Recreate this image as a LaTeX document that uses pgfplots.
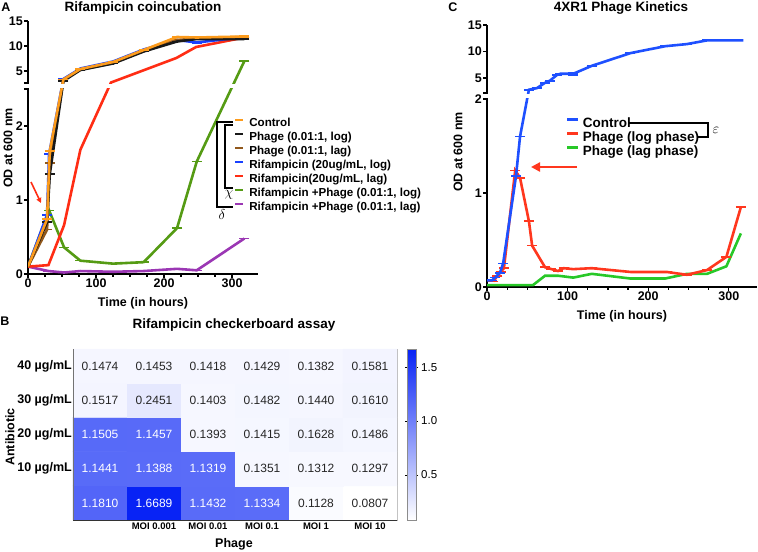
\documentclass[border=0pt]{standalone}
\usepackage{fontspec}
\setmainfont{Liberation Sans}
\usepackage{pgfplots}
\pgfplotsset{compat=1.18}
\usetikzlibrary{arrows.meta}

\definecolor{aOr}{RGB}{252,155,28}
\definecolor{aBk}{RGB}{25,25,25}
\definecolor{aBr}{RGB}{145,88,28}
\definecolor{aBl}{RGB}{25,65,255}
\definecolor{aRd}{RGB}{255,45,20}
\definecolor{aGn}{RGB}{85,155,20}
\definecolor{aPu}{RGB}{155,55,180}
\definecolor{cBl}{RGB}{30,80,255}
\definecolor{cRd}{RGB}{255,55,30}
\definecolor{cGn}{RGB}{40,200,40}

\newcommand{\bfs}[1]{\bfseries\fontsize{#1}{#1}\selectfont}
\newcommand{\rgs}[1]{\fontsize{#1}{#1}\selectfont}

\pgfplotsset{
  gp/.style={
    scale only axis,
    axis x line*=bottom, axis y line*=left,
    axis line style={line width=1.3bp, black},
    tick style={line width=1.3bp, black},
    tick align=outside,
    major tick length=4bp, minor tick length=2.5bp,
    xtick={0,100,200,300}, minor x tick num=3,
    ytick={0,1,2,5,10,15}, yticklabels={0,1,2,5,10,15},
    extra y tick labels={},
    /pgf/number format/assume math mode=true,
    tick label style={font=\bfs{12.5bp}},
    xticklabel style={inner sep=1bp},
    yticklabel style={inner sep=1bp},
    clip=true,
    legend cell align=left,
  },
  err/.style={error bars/.cd, y dir=both, y explicit, error mark=-,
    error bar style={line width=1.5bp, solid},
    error mark options={rotate=90, line width=1.5bp, mark size=5bp}},
}

\begin{document}
\begin{tikzpicture}
\useasboundingbox (0bp,0bp) rectangle (758bp,-552bp);

% ---------------- Panel A ----------------
\begin{axis}[gp, at={(28bp,-274bp)}, anchor=south west, width=230bp, height=253bp,
  xmin=0, xmax=338, ymin=0, ymax=15,
  y coord trafo/.code={\pgfmathparse{(#1)<2.5 ? 74*(#1) : ((#1)<2.6 ? 185+60*((#1)-2.5) : 191+5*((#1)-2.6))}},
  extra y ticks={2.5,2.6},
  legend style={at={(axis description cs:0.8957,0.6166)}, anchor=north west, draw=none, fill=none,
    font=\bfs{11.6bp}, row sep=2.5bp, inner sep=0pt, outer sep=0pt,
    nodes={inner sep=0pt, text height=8.3bp, text depth=3.2bp},
    /tikz/every odd column/.append style={column sep=5bp}},
  legend image code/.code={\draw[#1, line width=2.8bp] (0bp,3.8bp) -- (7.5bp,3.8bp);},
]
\addlegendimage{aOr}\addlegendentry{Control}
\addlegendimage{aBk}\addlegendentry{Phage (0.01:1, log)}
\addlegendimage{aBr}\addlegendentry{Phage (0.01:1, lag)}
\addlegendimage{aBl}\addlegendentry{Rifampicin (20ug/mL, log)}
\addlegendimage{aRd}\addlegendentry{Rifampicin(20ug/mL, lag)}
\addlegendimage{aGn}\addlegendentry{Rifampicin +Phage (0.01:1, log)}
\addlegendimage{aPu}\addlegendentry{Rifampicin +Phage (0.01:1, lag)}

\addplot[aPu, line width=2.6bp, forget plot, err] coordinates {
 (0,0.1) (30,0.04) +- (0,0.03) (53,0.02) +- (0,0.01) (77,0.04) +- (0,0.03)
 (125,0.03) +- (0,0.02) (170,0.04) +- (0,0.02) (219,0.07) +- (0,0.01)
 (248,0.05) +- (0,0.02) (318,0.48) +- (0,0.04)};
\addplot[aGn, line width=2.6bp, forget plot, err] coordinates {
 (0,0.1) (31,0.86) +- (0,0.04) (53,0.36) +- (0,0.04) (77,0.18) +- (0,0.03)
 (125,0.14) +- (0,0.02) (170,0.16) +- (0,0.03) (219,0.62) +- (0,0.14)
 (248,1.52) +- (0,0.14) (318,7.0) +- (0,0.2)};
\addplot[aRd, line width=2.6bp, forget plot] coordinates {
 (0,0.1) (30,0.12) (53,0.66) (77,1.68) (122,2.7) (218,7.6) (247,9.8) (318,11.7)};
\addplot[aBl, line width=2.6bp, forget plot, err] coordinates {
 (0,0.1) (28,0.8) +- (0,0.05) (31,1.62) +- (0,0.07) (52,3.4) +- (0,0.2)
 (77,5.5) +- (0,0.2) (125,6.9) +- (0,0.2) (170,9.3) +- (0,0.2)
 (219,11.2) +- (0,0.3) (248,10.7) +- (0,0.3) (318,11.8) +- (0,0.2)};
\addplot[aBr, line width=2.6bp, forget plot, err] coordinates {
 (0,0.1) (28,0.6) +- (0,0.04) (32,1.5) +- (0,0.06) (52,3.2) +- (0,0.1)
 (77,5.3) +- (0,0.1) (125,6.6) +- (0,0.1) (170,9.0) +- (0,0.1)
 (219,11.2) +- (0,0.1) (248,11.5) +- (0,0.1) (318,11.8) +- (0,0.1)};
\addplot[aBk, line width=2.6bp, forget plot, err] coordinates {
 (0,0.1) (28,0.7) +- (0,0.05) (32,1.35) +- (0,0.08) (52,3.0) +- (0,0.15)
 (77,5.2) +- (0,0.15) (125,6.5) +- (0,0.15) (170,8.9) +- (0,0.2)
 (219,10.9) +- (0,0.2) (248,11.4) +- (0,0.1) (318,11.4) +- (0,0.1)};
\addplot[aOr, line width=2.6bp, forget plot, err] coordinates {
 (0,0.1) (28,0.74) +- (0,0.07) (32,1.66) +- (0,0.06) (52,3.3) +- (0,0.2)
 (77,5.4) +- (0,0.2) (125,6.8) +- (0,0.2) (170,9.2) +- (0,0.25)
 (219,11.8) +- (0,0.4) (248,11.7) +- (0,0.2) (318,11.9) +- (0,0.3)};
\coordinate (Ab1) at (axis cs:0,2.5);
\coordinate (Ab2) at (axis cs:338,2.6);
\end{axis}
\fill[white] ([xshift=-0.9bp,yshift=0.7bp]Ab1) rectangle ([yshift=-0.7bp]Ab2);

% brackets and arrow A
\draw[line width=1.1bp] (233bp,-122bp) -- (217bp,-122bp) -- (217bp,-207bp) -- (233bp,-207bp);
\draw[line width=1.1bp] (233bp,-125bp) -- (225bp,-125bp) -- (225bp,-188bp) -- (233bp,-188bp);
\node[font=\fontsize{15bp}{15bp}\selectfont] at (229bp,-195bp) {$\chi$};
\node[font=\fontsize{15bp}{15bp}\selectfont] at (222bp,-215bp) {$\delta$};
\draw[aRd, line width=1.6bp, -{Triangle[length=5bp,width=5bp]}] (31bp,-182bp) -- (41bp,-203bp);

\node[font=\bfs{12.5bp}] at (6bp,-7bp) {A};
\node[font=\bfs{13.5bp}] at (143bp,-8bp) {Rifampicin coincubation};
\node[font=\bfs{12.5bp}, rotate=90] at (8bp,-148bp) {OD at 600 nm};
\node[font=\bfs{12.5bp}] at (143bp,-303bp) {Time (in hours)};

% ---------------- Panel C ----------------
\begin{axis}[gp, at={(487bp,-287bp)}, anchor=south west, width=270bp, height=262bp,
  xmin=0, xmax=335, ymin=0, ymax=15,
  y coord trafo/.code={\pgfmathparse{(#1)<2 ? 94*(#1) : ((#1)<2.2 ? 188+30*((#1)-2) : 194+5.3*((#1)-2.2))}},
  extra y ticks={2.2},
  legend style={at={(axis description cs:0.2926,0.645)}, anchor=north west, draw=none, fill=none,
    font=\bfs{13.5bp}, row sep=1.5bp, inner sep=0pt, outer sep=0pt,
    nodes={inner sep=0pt, text height=9.7bp, text depth=2.8bp},
    /tikz/every odd column/.append style={column sep=3bp}},
  legend image code/.code={\draw[#1, line width=2.8bp] (0bp,4.5bp) -- (11bp,4.5bp);},
]
\addlegendimage{cBl}\addlegendentry{Control}
\addlegendimage{cRd}\addlegendentry{Phage (log phase)}
\addlegendimage{cGn}\addlegendentry{Phage (lag phase)}

\addplot[cGn, line width=2.6bp, forget plot] coordinates {
 (0,0.02) (57,0.02) (72,0.12) (88,0.12) (107,0.1) (130,0.14) (178,0.09)
 (221,0.09) (248,0.14) (273,0.14) (297,0.22) (315,0.57)};
\addplot[cRd, line width=2.6bp, forget plot, err] coordinates {
 (8,0.06) +- (0,0.04) (13,0.12) +- (0,0.04) (17,0.16) +- (0,0.04) (21,0.2) +- (0,0.03)
 (35,1.24) +- (0,0.05) (41,1.16) +- (0,0.05) (52,0.7) +- (0,0.065) (56,0.44) +- (0,0.065)
 (72,0.21) +- (0,0.02) (80,0.19) +- (0,0.02) (88,0.17) +- (0,0.02) (95,0.2) +- (0,0.03)
 (107,0.19) +- (0,0.03) (130,0.2) +- (0,0.03) (178,0.16) +- (0,0.02) (223,0.16) +- (0,0.02)
 (248,0.13) +- (0,0.02) (273,0.18) +- (0,0.03) (297,0.32) +- (0,0.04) (315,0.85) +- (0,0.12)};
\addplot[cBl, line width=2.6bp, forget plot, err] coordinates {
 (0,0.07) (6,0.07) +- (0,0.02) (10,0.1) +- (0,0.03) (16,0.15) +- (0,0.03) (20,0.25) +- (0,0.04)
 (36,1.18) +- (0,0.03) (41,1.6) +- (0,0.07) (52,2.8) +- (0,0.1) (62,3.1) +- (0,0.1)
 (72,4.1) +- (0,0.2) (78,4.5) +- (0,0.2) (87,5.6) +- (0,0.3) (91,5.8) +- (0,0.3)
 (107,5.8) +- (0,1.0) (130,7.3) +- (0,0.2) (178,9.7) +- (0,0.2) (221,11.0) +- (0,0.1)
 (248,11.4) +- (0,0.1) (273,12.1) +- (0,0.2) (318,12.1)};
\coordinate (Cb1) at (axis cs:0,2);
\coordinate (Cb2) at (axis cs:335,2.2);
\end{axis}
\fill[white] ([xshift=-0.9bp,yshift=0.7bp]Cb1) rectangle ([yshift=-0.7bp]Cb2);

\draw[line width=1.1bp] (628bp,-123bp) -- (708bp,-123bp) -- (708bp,-137bp) -- (698bp,-137bp);
\node[font=\fontsize{15bp}{15bp}\selectfont] at (716bp,-130bp) {$\varepsilon$};
\draw[cRd, line width=2.6bp, -{Triangle[length=9bp,width=9bp]}] (577bp,-167bp) -- (531bp,-167bp);

\node[font=\bfs{12.5bp}] at (453bp,-7bp) {C};
\node[font=\bfs{13.5bp}] at (621bp,-8bp) {4XR1 Phage Kinetics};
\node[font=\bfs{12.5bp}, rotate=90] at (458bp,-152bp) {OD at 600 nm};
\node[font=\bfs{12.5bp}] at (622bp,-316bp) {Time (in hours)};

% ---------------- Panel B ----------------
\begin{axis}[scale only axis, at={(73bp,-520bp)}, anchor=south west, width=324bp, height=171bp,
  xmin=-0.5, xmax=5.5, ymin=-0.5, ymax=4.5,
  xtick={0,1,2,3,4,5}, xticklabels={,MOI 0.001,MOI 0.01,MOI 0.1,MOI 1,MOI 10},
  ytick={0,1,2,3,4}, yticklabels={,10 µg/mL,20 µg/mL,30 µg/mL,40 µg/mL},
  major tick length=0pt,
  xticklabel style={font=\bfs{9.5bp}, inner sep=0pt, yshift=-3bp},
  yticklabel style={font=\bfs{12.5bp}, inner sep=0pt, xshift=-1bp},
  axis line style={draw=black!30, line width=0.9bp},
  clip=false,
  colormap={wb}{rgb255=(255,255,255) rgb255=(8,35,245)},
  point meta min=0.0807, point meta max=1.6689,
  colorbar,
  colorbar style={
    at={(parent axis.north east)}, anchor=north west, xshift=1.5bp,
    width=9bp,
    ytick={0.5,1,1.5}, yticklabels={0.5,1.0,1.5},
    yticklabel style={font=\rgs{11.5bp}, inner sep=0pt, xshift=3bp},
    axis line style={draw=black!45, line width=0.8bp},
    major tick length=2bp, tick style={black, line width=0.6bp}, tick align=outside,
  },
]
\addplot[matrix plot*, mesh/cols=6, point meta=explicit] table[meta=v] {
x y v
0 0 1.1810
1 0 1.6689
2 0 1.1432
3 0 1.1334
4 0 0.1128
5 0 0.0807
0 1 1.1441
1 1 1.1388
2 1 1.1319
3 1 0.1351
4 1 0.1312
5 1 0.1297
0 2 1.1505
1 2 1.1457
2 2 0.1393
3 2 0.1415
4 2 0.1628
5 2 0.1486
0 3 0.1517
1 3 0.2451
2 3 0.1403
3 3 0.1482
4 3 0.1440
5 3 0.1610
0 4 0.1474
1 4 0.1453
2 4 0.1418
3 4 0.1429
4 4 0.1382
5 4 0.1581
};
\addplot[draw=none, mark=none, point meta=explicit symbolic,
  nodes near coords={\pgfplotspointmeta}, nodes near coords align=center,
  every node near coord/.append style={font=\rgs{12bp}, text=white, inner sep=0pt}] table[meta=v] {
x y v
0 0 1.1810
1 0 1.6689
2 0 1.1432
3 0 1.1334
0 1 1.1441
1 1 1.1388
2 1 1.1319
0 2 1.1505
1 2 1.1457
};
\addplot[draw=none, mark=none, point meta=explicit symbolic,
  nodes near coords={\pgfplotspointmeta}, nodes near coords align=center,
  every node near coord/.append style={font=\rgs{12bp}, text=black!85, inner sep=0pt}] table[meta=v] {
x y v
4 0 0.1128
5 0 0.0807
3 1 0.1351
4 1 0.1312
5 1 0.1297
2 2 0.1393
3 2 0.1415
4 2 0.1628
5 2 0.1486
0 3 0.1517
1 3 0.2451
2 3 0.1403
3 3 0.1482
4 3 0.1440
5 3 0.1610
0 4 0.1474
1 4 0.1453
2 4 0.1418
3 4 0.1429
4 4 0.1382
5 4 0.1581
};
\draw[black!80, line width=1bp] (rel axis cs:0,0) -- (rel axis cs:1,0);
\draw[black!55, line width=1bp] (rel axis cs:0,0) -- (rel axis cs:0,1);
\end{axis}

\node[font=\bfs{12.5bp}] at (5bp,-321bp) {B};
\node[font=\bfs{13.5bp}] at (234bp,-325bp) {Rifampicin checkerboard assay};
\node[font=\bfs{12.5bp}, rotate=90] at (10bp,-437bp) {Antibiotic};
\node[font=\bfs{12.5bp}] at (234bp,-544bp) {Phage};
\end{tikzpicture}
\end{document}
